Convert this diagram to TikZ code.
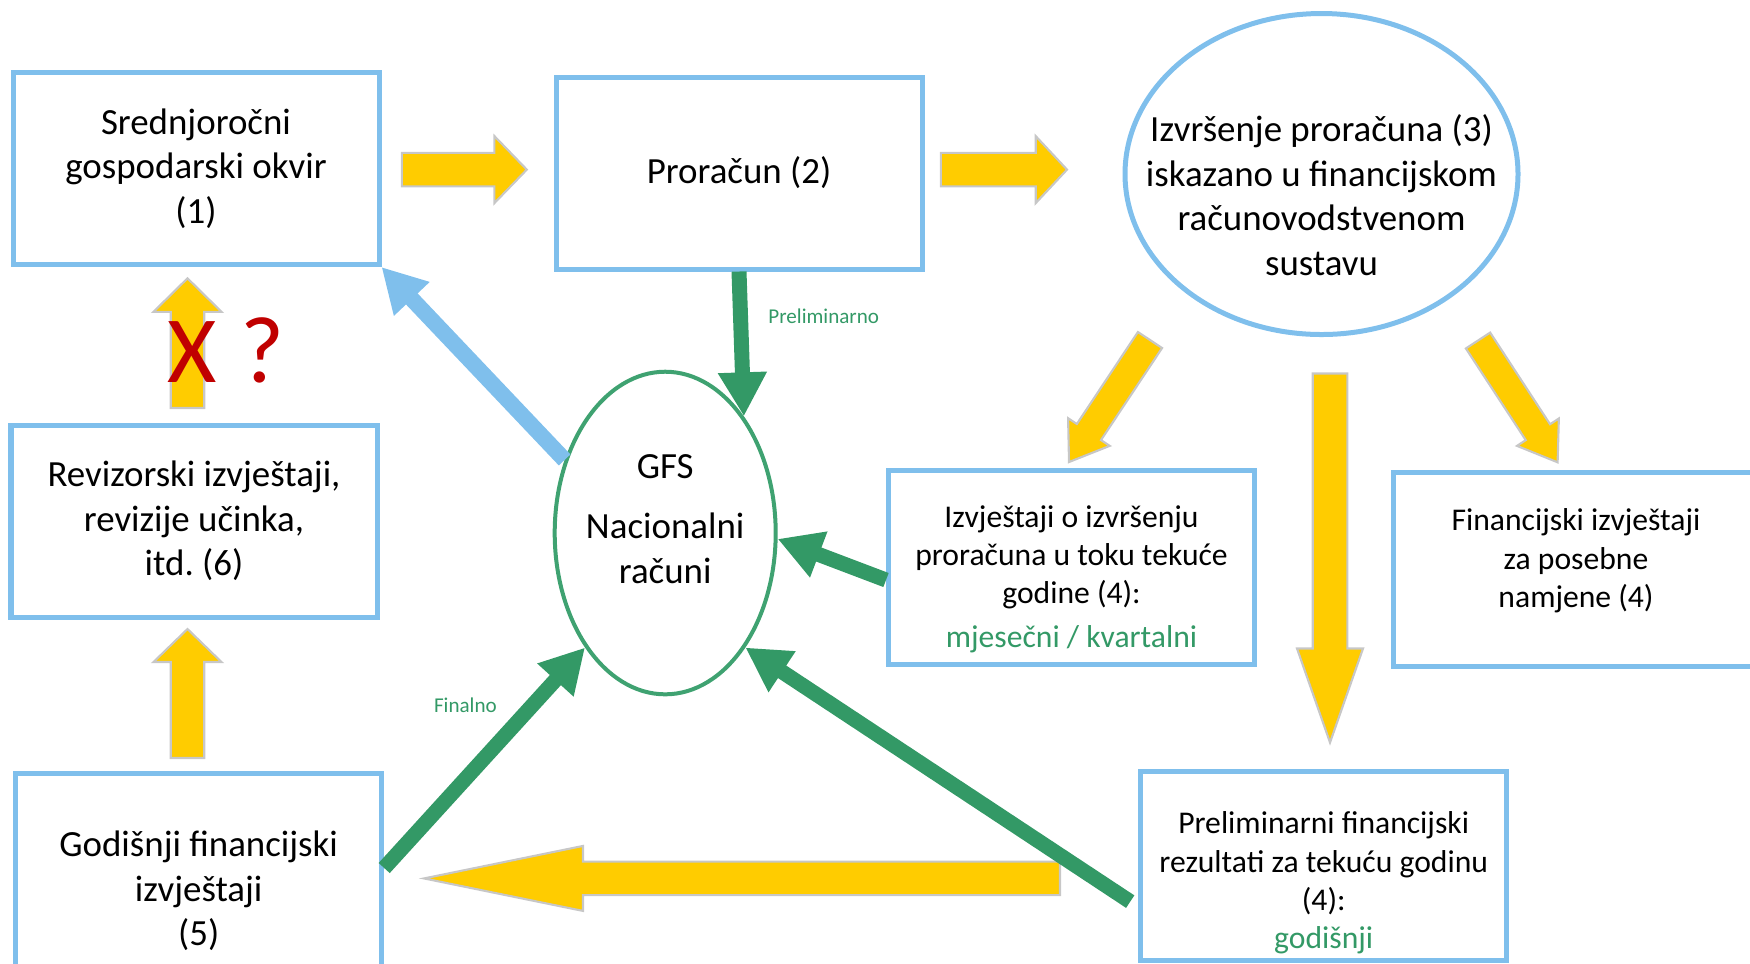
\documentclass[tikz,border=0pt]{standalone}
\usepackage{fontspec}
\setmainfont{Carlito}
\usetikzlibrary{arrows.meta,calc,shapes.geometric}
\definecolor{boxblue}{HTML}{7FBFEC}
\definecolor{gfsgreen}{HTML}{339966}
\definecolor{ellgreen}{HTML}{3FA271}
\definecolor{arrowyellow}{HTML}{FFCC00}
\definecolor{markred}{HTML}{C00000}

% tail, tip, head length, shaft half width, head half width
\newcommand{\blockarrow}[5]{%
  \path (#2) coordinate (ba-tip) ($(#2)!#3!(#1)$) coordinate (ba-base);
  \draw[yellowarrow] ($(#1)!#4!90:(#2)$) -- ($(ba-base)!#4!90:(ba-tip)$)
    -- ($(ba-base)!#5!90:(ba-tip)$) -- (ba-tip)
    -- ($(ba-base)!#5!-90:(ba-tip)$) -- ($(ba-base)!#4!-90:(ba-tip)$)
    -- ($(#1)!#4!-90:(#2)$) -- cycle;}

\begin{document}
\begin{tikzpicture}[
  box/.style={draw=boxblue, line width=0.05cm, fill=white, minimum width=3.66cm, minimum height=1.92cm, inner sep=0pt, align=center, font=\fontsize{10.5}{12.7}\selectfont},
  smallbox/.style={box, minimum height=1.94cm, font=\fontsize{9}{10.9}\selectfont},
  bigtext/.style={align=center, font=\fontsize{10.5}{12.7}\selectfont},
  smalltext/.style={align=center, font=\fontsize{9}{10.9}\selectfont},
  yellowarrow/.style={fill=arrowyellow, draw=black!22, line width=0.6pt},
  greenarrow/.style={draw=gfsgreen, line width=0.15cm, -{Triangle[length=0.44cm, width=0.46cm]}},
  bluearrow/.style={draw=boxblue, line width=0.16cm, -{Triangle[length=0.44cm, width=0.46cm]}},
  note/.style={font=\fontsize{6}{7}\selectfont, text=gfsgreen},
  redmark/.style={font=\fontsize{27}{30}\selectfont, text=markred}
]
\useasboundingbox (0,0) rectangle (17.5,-9.63);

\node[box] (mtef) at (1.96,-1.685) {Srednjoročni\\gospodarski okvir\\(1)};
\node[box] (budget) at (7.39,-1.73) {Proračun (2)};
\node[ellipse, draw=boxblue, line width=0.05cm, minimum width=3.93cm, minimum height=3.21cm, inner sep=0pt] (exec) at (13.215,-1.74) {};
\node[bigtext] (exectext) at (13.215,-1.95) {Izvršenje proračuna (3)\\iskazano u financijskom\\računovodstvenom\\sustavu};

\node[box] (audit) at (1.94,-5.21) {Revizorski izvještaji,\\revizije učinka,\\itd.\ (6)};
\node[ellipse, draw=ellgreen, line width=0.04cm, minimum width=2.21cm, minimum height=3.226cm, inner sep=0pt] (gfs) at (6.652,-5.33) {};
\node[bigtext] (gfstext) at (6.652,-5.19) {GFS\\[4.4pt]Nacionalni\\računi};
\node[smallbox] (inyear) at (10.715,-5.67) {};
\node[smalltext] (inyeartext) at (10.715,-5.79) {Izvještaji o izvršenju\\proračuna u toku tekuće\\godine (4):\\[1.4pt]\textcolor{gfsgreen}{mjesečni / kvartalni}};
\node[smallbox] (special) at (15.76,-5.69) {};
\node[smalltext] (specialtext) at (15.76,-5.61) {Financijski izvještaji\\za posebne\\namjene (4)};

\node[box, minimum height=2.35cm] (annual) at (1.987,-8.91) {Godišnji financijski\\izvještaji\\(5)};
\node[smallbox, minimum height=1.89cm] (prelim) at (13.237,-8.656) {};
\node[smalltext] (prelimtext) at (13.237,-8.83) {Preliminarni financijski\\rezultati za tekuću godinu\\(4):\\\textcolor{gfsgreen}{godišnji}};

% yellow flow arrows
\coordinate (aonetail) at (4.018,-1.696);
\coordinate (aonetip) at (5.268,-1.696);
\coordinate (atwotail) at (9.409,-1.696);
\coordinate (atwotip) at (10.67,-1.696);
\coordinate (uponetail) at (1.875,-4.08);
\coordinate (uponetip) at (1.875,-2.783);
\coordinate (uptwotail) at (1.875,-7.58);
\coordinate (uptwotip) at (1.875,-6.29);
\coordinate (downtail) at (13.30,-3.735);
\coordinate (downtip) at (13.30,-7.425);
\coordinate (backtail) at (10.60,-8.784);
\coordinate (backtip) at (4.24,-8.784);
\coordinate (ldiagtail) at (11.50,-3.40);
\coordinate (ldiagtip) at (10.69,-4.62);
\coordinate (rdiagtail) at (14.78,-3.405);
\coordinate (rdiagtip) at (15.576,-4.623);
\blockarrow{aonetail}{aonetip}{0.324cm}{0.1675cm}{0.335cm}
\blockarrow{atwotail}{atwotip}{0.313cm}{0.1675cm}{0.335cm}
\blockarrow{uponetail}{uponetip}{0.335cm}{0.168cm}{0.34cm}
\blockarrow{uptwotail}{uptwotip}{0.33cm}{0.168cm}{0.34cm}
\blockarrow{downtail}{downtip}{0.94cm}{0.173cm}{0.33cm}
\blockarrow{backtail}{backtip}{1.59cm}{0.1675cm}{0.325cm}
\blockarrow{ldiagtail}{ldiagtip}{0.36cm}{0.145cm}{0.25cm}
\blockarrow{rdiagtail}{rdiagtip}{0.36cm}{0.145cm}{0.25cm}

\node[redmark] (cross) at (1.925,-3.52) {X};
\node[redmark] (query) at (2.625,-3.50) {?};

% data flows into GFS
\draw[greenarrow] (budget.south) -- (gfs.56);
\draw[greenarrow] ([yshift=-0.13cm]inyear.west) -- (gfs.-3);
\draw[greenarrow] ([xshift=-0.08cm, yshift=-0.36cm]prelim.west) -- (gfs.-55);
\draw[greenarrow] ([yshift=0.23cm]annual.east) -- (gfs.235);
\draw[bluearrow] (gfs.144) -- (mtef.south east);

\node[note] (prelimlabel) at (8.237,-3.159) {Preliminarno};
\node[note] (finallabel) at (4.654,-7.054) {Finalno};
\end{tikzpicture}
\end{document}
